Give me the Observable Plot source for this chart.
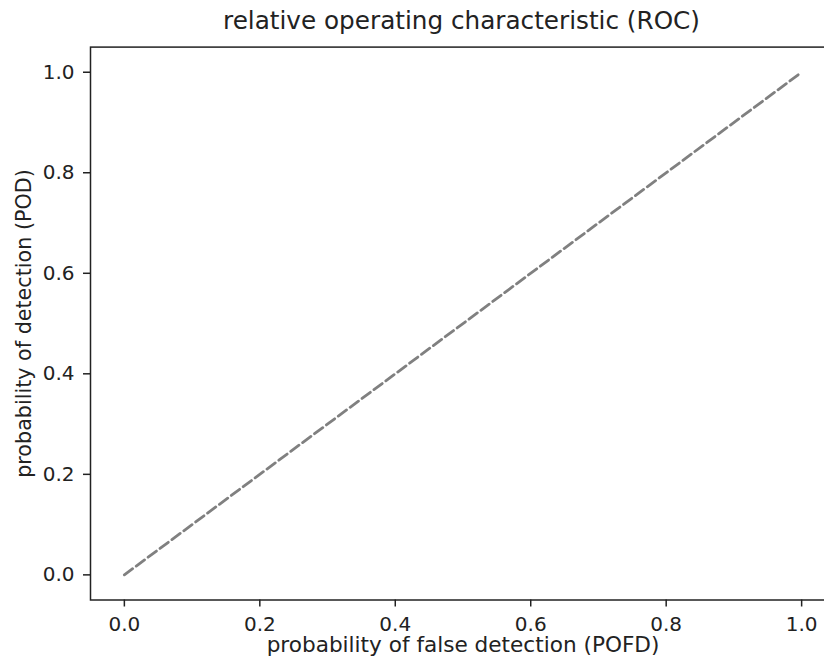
<!DOCTYPE html>
<html>
<head>
<meta charset="utf-8">
<script src="https://cdn.jsdelivr.net/npm/d3@7"></script>
<script src="https://cdn.jsdelivr.net/npm/@observablehq/plot@0.6"></script>
<style>
  html, body { margin: 0; padding: 0; background: white; overflow: hidden; }
  #title {
    position: relative; width: 923px; height: 40px; box-sizing: border-box;
    padding-top: 9px; line-height: 24px; text-align: center;
    font-family: "DejaVu Sans", sans-serif; font-size: 24.7px; color: #222;
    white-space: nowrap;
  }
</style>
</head>
<body>
<div id="title">relative operating characteristic (ROC)</div>
<div id="chart"></div>
<script>
// Reference (no-skill) diagonal
const pofd = [0, 1];
const pod = [0, 1];
const xTicks = [0, 0.2, 0.4, 0.6, 0.8, 1.0];
const yTicks = [0, 0.2, 0.4, 0.6, 0.8, 1.0];
const xLabel = "probability of false detection (POFD)";
const yLabel = "probability of detection (POD)";

const line = pofd.map((x, i) => ({x, y: pod[i]}));

const chart = Plot.plot({
  width: 824,
  height: 628,
  marginLeft: 90,
  marginRight: -11,
  marginTop: 6.6,
  marginBottom: 68.5,
  style: {fontFamily: "DejaVu Sans, sans-serif", fontSize: "20px", color: "#222", background: "white"},
  x: {domain: [-0.05, 1.05], axis: null},
  y: {domain: [-0.05, 1.05], axis: null},
  marks: [
    Plot.line(line, {x: "x", y: "y", stroke: "#808080", strokeWidth: 2.8, strokeDasharray: "10.3,4.5"}),
    Plot.axisX({ticks: xTicks, tickFormat: d3.format(".1f"), tickSize: 7, tickPadding: 10, stroke: "#222", strokeWidth: 1.5, fill: "#222", label: null}),
    Plot.axisY({ticks: yTicks, tickFormat: d3.format(".1f"), tickSize: 7, tickPadding: 9, stroke: "#222", strokeWidth: 1.5, fill: "#222", label: null}),
    Plot.frame({stroke: "#222", strokeWidth: 1.5}),
    Plot.text([xLabel], {text: d => d, frameAnchor: "bottom", dy: 52, lineAnchor: "bottom", textAnchor: "middle", fill: "#222", fontSize: 21.6}),
    Plot.text([yLabel], {text: d => d, frameAnchor: "left", dx: -66, rotate: -90, lineAnchor: "middle", textAnchor: "middle", fill: "#222", fontSize: 20.7})
  ]
});
document.getElementById("chart").appendChild(chart);
</script>
</body>
</html>
